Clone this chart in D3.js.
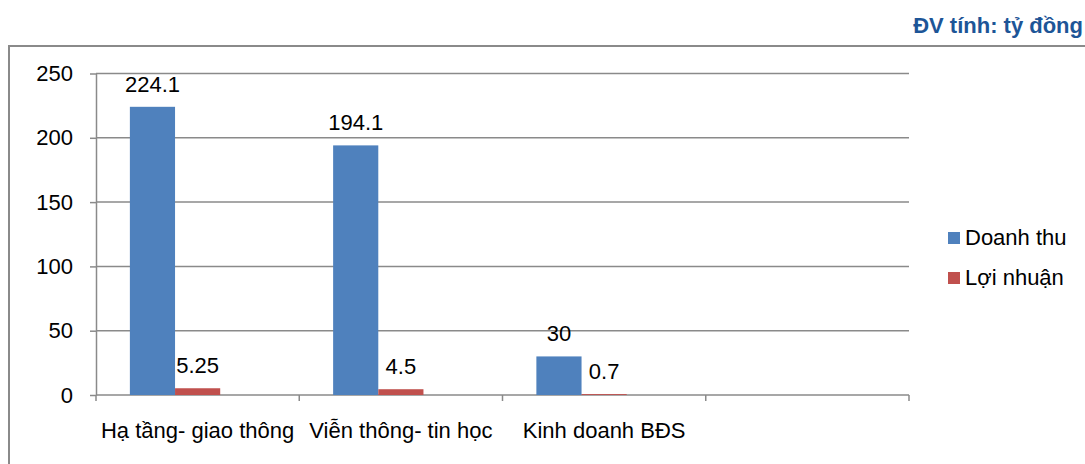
<!DOCTYPE html>
<html>
<head>
<meta charset="utf-8">
<script src="https://cdn.jsdelivr.net/npm/d3@7"></script>
<style>
  body { margin: 0; background: #fff; }
  svg { display: block; font-family: "Liberation Sans", Arial, sans-serif; }
  .axis path, .axis line { stroke: #8a8a8a; stroke-width: 1.5; }
  .axis text { font-size: 22px; fill: #000; }
</style>
</head>
<body>
<svg width="1085" height="464"></svg>
<script>
var categories = ["Hạ tầng- giao thông", "Viễn thông- tin học", "Kinh doanh BĐS", ""];
var seriesNames = ["Doanh thu", "Lợi nhuận"];
var doanhThu = [224.1, 194.1, 30];
var loiNhuan = [5.25, 4.5, 0.7];
var yTicks = [0, 50, 100, 150, 200, 250];
var colors = ["#4f81bd", "#c0504d"];

var svg = d3.select("svg"),
    margin = {top: 73.5, left: 96, right: 176, bottom: 69},
    width = +svg.attr("width") - margin.left - margin.right,
    height = +svg.attr("height") - margin.top - margin.bottom;

// outer frame (runs past the right and bottom edges)
svg.append("rect")
    .attr("x", 9).attr("y", 46)
    .attr("width", 1200).attr("height", 600)
    .attr("fill", "none")
    .attr("stroke", "#8a8a8a")
    .attr("stroke-width", 2);

svg.append("text")
    .attr("x", 1083).attr("y", 33)
    .attr("text-anchor", "end")
    .style("font-size", "22px")
    .style("font-weight", "bold")
    .attr("fill", "#1d5597")
    .text("ĐV tính: tỷ đồng");

var x0 = d3.scaleBand().domain(categories).range([0, width]).padding(0);
var slot = x0.bandwidth() / 4.5;
var x1 = d3.scaleBand().domain(seriesNames).range([0.75 * slot, 2.75 * slot]).padding(0);
var y = d3.scaleLinear().domain([0, 250]).range([height, 0]);

var g = svg.append("g")
    .attr("transform", "translate(" + margin.left + "," + margin.top + ")");

// gridlines
g.selectAll(".grid")
  .data(yTicks.filter(function(d) { return d > 0; }))
  .enter().append("line")
    .attr("x1", 0).attr("x2", width)
    .attr("y1", function(d) { return y(d); })
    .attr("y2", function(d) { return y(d); })
    .attr("stroke", "#8a8a8a")
    .attr("stroke-width", 1.5);

g.append("g")
    .attr("class", "axis")
    .call(d3.axisLeft(y).tickValues(yTicks).tickSize(6).tickSizeOuter(0).tickPadding(17));

// x axis line and boundary ticks
var xAxis = g.append("g").attr("class", "axis");
xAxis.append("line")
    .attr("x1", 0).attr("x2", width)
    .attr("y1", height).attr("y2", height);
xAxis.selectAll(".tk")
  .data(categories.map(function(d) { return x0(d); }).concat([width]))
  .enter().append("line")
    .attr("x1", function(d) { return d; })
    .attr("x2", function(d) { return d; })
    .attr("y1", height).attr("y2", height + 6);
xAxis.selectAll(".cat")
  .data(categories)
  .enter().append("text")
    .attr("x", function(d) { return x0(d) + x0.bandwidth() / 2; })
    .attr("y", height + 43)
    .attr("text-anchor", "middle")
    .text(function(d) { return d; });

var series = [doanhThu, loiNhuan];
series.forEach(function(vals, si) {
  var s = g.append("g");
  s.selectAll("rect")
    .data(vals)
    .enter().append("rect")
      .attr("x", function(d, i) { return x0(categories[i]) + x1(seriesNames[si]); })
      .attr("width", x1.bandwidth())
      .attr("y", function(d) { return y(d); })
      .attr("height", function(d) { return height - y(d); })
      .attr("fill", colors[si]);
  s.selectAll("text")
    .data(vals)
    .enter().append("text")
      .attr("x", function(d, i) { return x0(categories[i]) + x1(seriesNames[si]) + x1.bandwidth() / 2; })
      .attr("y", function(d) { return y(d) - 15; })
      .attr("text-anchor", "middle")
      .style("font-size", "22px")
      .text(function(d) { return String(d); });
});

// legend
var legend = svg.append("g")
    .attr("transform", "translate(948,232)");
seriesNames.forEach(function(name, i) {
  legend.append("rect")
      .attr("x", 0).attr("y", i * 40)
      .attr("width", 12).attr("height", 12)
      .attr("fill", colors[i]);
  legend.append("text")
      .attr("x", 17).attr("y", i * 40 + 13)
      .style("font-size", "22px")
      .text(name);
});
</script>
</body>
</html>
